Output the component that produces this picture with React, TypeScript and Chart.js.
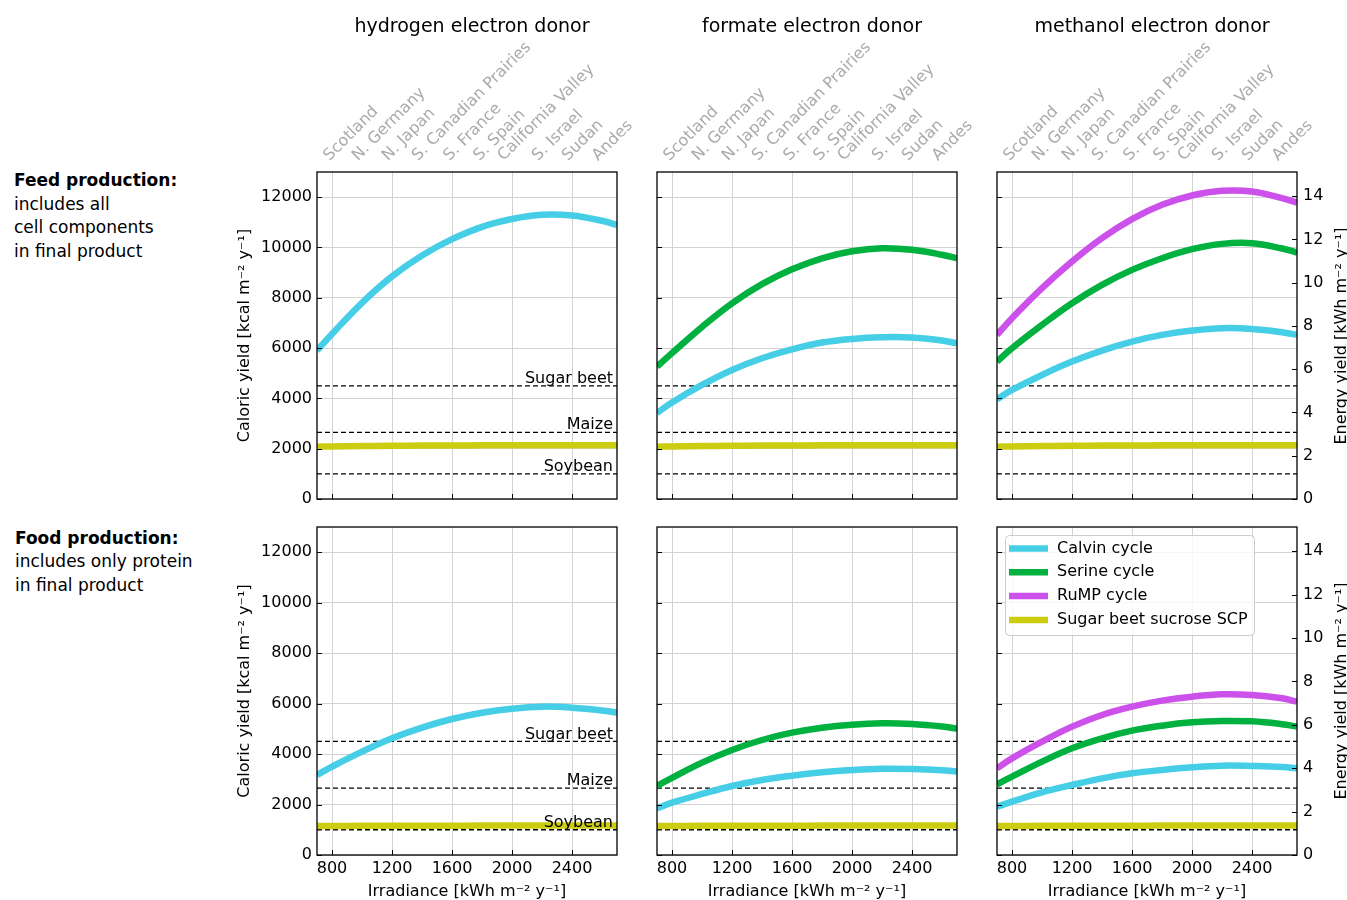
import React, { useEffect, useRef } from "react";
import { Chart, registerables } from "chart.js";

Chart.register(...registerables);

// ---------------- data ----------------
const IRRADIANCE = [700, 800, 1000, 1200, 1400, 1600, 1800, 2000, 2200, 2400, 2600, 2700];
const X_TICKS = [800, 1200, 1600, 2000, 2400];
const Y_TICKS = [0, 2000, 4000, 6000, 8000, 10000, 12000];
const ENERGY_TICKS = [0, 2, 4, 6, 8, 10, 12, 14];
const KCAL_PER_KWH = 860;
const Y_MAX = 13000;

const LOCATIONS = [
  "Scotland", "N. Germany", "N. Japan", "S. Canadian Prairies", "S. France",
  "S. Spain", "California Valley", "S. Israel", "Sudan", "Andes",
];
const LOCATION_IRRADIANCE = [855, 1045, 1245, 1445, 1655, 1855, 2015, 2245, 2445, 2645];

const DONORS = ["hydrogen electron donor", "formate electron donor", "methanol electron donor"];
const SERIES_NAMES = ["Calvin cycle", "Serine cycle", "RuMP cycle", "Sugar beet sucrose SCP"];

const CROPS = ["Sugar beet", "Maize", "Soybean"];
const CROP_YIELDS = [4500, 2650, 1000];

// Feed production (row 1)
const FEED_H2_CALVIN = [5900, 6560, 7800, 8850, 9680, 10330, 10820, 11130, 11297, 11270, 11060, 10899];
const FEED_FORMATE_SERINE = [5263, 5800, 6840, 7780, 8540, 9130, 9570, 9850, 9970, 9905, 9710, 9570];
const FEED_FORMATE_CALVIN = [3420, 3840, 4535, 5130, 5595, 5950, 6220, 6365, 6430, 6420, 6300, 6190];
const FEED_METHANOL_RUMP = [6523, 7187, 8380, 9440, 10369, 11125, 11695, 12066, 12251, 12225, 11960, 11787];
const FEED_METHANOL_SERINE = [5463, 5993, 6921, 7783, 8512, 9109, 9573, 9931, 10143, 10170, 9960, 9798];
const FEED_METHANOL_CALVIN = [3965, 4336, 4932, 5463, 5900, 6257, 6523, 6695, 6790, 6762, 6630, 6523];
const FEED_SCP = [2080, 2090, 2105, 2115, 2122, 2128, 2132, 2135, 2137, 2138, 2139, 2140];

// Food production (row 2)
const FOOD_H2_CALVIN = [3170, 3500, 4095, 4625, 5050, 5390, 5640, 5800, 5880, 5840, 5730, 5640];
const FOOD_FORMATE_SERINE = [2748, 3060, 3660, 4162, 4558, 4849, 5047, 5166, 5219, 5192, 5095, 5007];
const FOOD_FORMATE_CALVIN = [1850, 2074, 2418, 2735, 2973, 3144, 3277, 3369, 3421, 3409, 3360, 3303];
const FOOD_METHANOL_RUMP = [3435, 3831, 4492, 5087, 5549, 5879, 6117, 6276, 6368, 6342, 6210, 6078];
const FOOD_METHANOL_SERINE = [2801, 3105, 3699, 4228, 4624, 4928, 5126, 5258, 5311, 5298, 5185, 5087];
const FOOD_METHANOL_CALVIN = [1915, 2114, 2484, 2775, 3039, 3237, 3369, 3475, 3541, 3528, 3490, 3435];
const FOOD_SCP = [1145, 1150, 1155, 1158, 1161, 1163, 1165, 1166, 1167, 1168, 1168, 1168];

// ---------------- styles / layout ----------------
const COLORS = ["#46cee7", "#00b140", "#cc50ea", "#cccc10"];
const FONT = "'DejaVu Sans', Verdana, sans-serif";
const GRID = "#d2d2d2";
const PLOT_LEFT = [317, 657, 997];
const PLOT_W = 300;
const LEFT_AXIS_W = 85;
const RIGHT_AXIS_W = 95;

// panel series: [seriesIndex, values]
const PANELS: Array<Array<Array<[number, number[]]>>> = [
  [
    [[0, FEED_H2_CALVIN], [3, FEED_SCP]],
    [[0, FEED_FORMATE_CALVIN], [1, FEED_FORMATE_SERINE], [3, FEED_SCP]],
    [[0, FEED_METHANOL_CALVIN], [1, FEED_METHANOL_SERINE], [2, FEED_METHANOL_RUMP], [3, FEED_SCP]],
  ],
  [
    [[0, FOOD_H2_CALVIN], [3, FOOD_SCP]],
    [[0, FOOD_FORMATE_CALVIN], [1, FOOD_FORMATE_SERINE], [3, FOOD_SCP]],
    [[0, FOOD_METHANOL_CALVIN], [1, FOOD_METHANOL_SERINE], [2, FOOD_METHANOL_RUMP], [3, FOOD_SCP]],
  ],
];

Chart.defaults.font.family = FONT;

function Panel({ row, col }: { row: number; col: number }) {
  const ref = useRef<HTMLCanvasElement | null>(null);
  const canvasLeft = PLOT_LEFT[col] - LEFT_AXIS_W;
  const canvasW = LEFT_AXIS_W + PLOT_W + RIGHT_AXIS_W;
  const canvasTop = row === 0 ? 0 : 507;
  const canvasH = row === 0 ? 509 : 394;

  useEffect(() => {
    const canvas = ref.current!;
    const series = PANELS[row][col];

    const datasets: any[] = [];
    series.forEach(([si, vals]) => {
      datasets.push({
        label: SERIES_NAMES[si],
        data: IRRADIANCE.map((x, i) => ({ x, y: vals[i] })),
        borderColor: COLORS[si],
        backgroundColor: COLORS[si],
        borderWidth: 6.5,
        pointRadius: 0,
        tension: 0.4,
        fill: false,
        xAxisID: "x",
        yAxisID: "y",
      });
    });
    CROPS.forEach((c, i) => {
      datasets.push({
        label: c,
        data: [
          { x: 700, y: CROP_YIELDS[i] },
          { x: 2700, y: CROP_YIELDS[i] },
        ],
        borderColor: "#000",
        borderWidth: 1.3,
        borderDash: [5, 3],
        pointRadius: 0,
        tension: 0,
        fill: false,
        xAxisID: "x",
        yAxisID: "y",
      });
    });

    const frameTicks = {
      id: "frameTicks",
      afterDatasetsDraw(chart: any) {
        const { ctx, chartArea: ca, scales } = chart;
        ctx.save();
        ctx.strokeStyle = "#000";
        ctx.lineWidth = 1;
        const len = 5;
        scales.y.ticks.forEach((t: any) => {
          const py = Math.round(scales.y.getPixelForValue(t.value)) + 0.5;
          ctx.beginPath();
          ctx.moveTo(ca.left, py);
          ctx.lineTo(ca.left + len, py);
          ctx.stroke();
        });
        scales.x.ticks.forEach((t: any) => {
          const px = Math.round(scales.x.getPixelForValue(t.value)) + 0.5;
          ctx.beginPath();
          ctx.moveTo(px, ca.bottom);
          ctx.lineTo(px, ca.bottom - len);
          ctx.stroke();
        });
        if (col === 2) {
          scales.y2.ticks.forEach((t: any) => {
            const py = Math.round(scales.y2.getPixelForValue(t.value)) + 0.5;
            ctx.beginPath();
            ctx.moveTo(ca.right, py);
            ctx.lineTo(ca.right - len, py);
            ctx.stroke();
          });
        }
        ctx.lineWidth = 1.3;
        ctx.strokeRect(ca.left, ca.top, ca.right - ca.left, ca.bottom - ca.top);
        ctx.restore();
      },
      afterDraw(chart: any) {
        const { ctx, chartArea: ca, scales } = chart;
        ctx.save();
        if (col === 0) {
          ctx.fillStyle = "#000";
          ctx.font = `16px ${FONT}`;
          ctx.textAlign = "right";
          ctx.textBaseline = "bottom";
          CROPS.forEach((c, i) => {
            const py = scales.y.getPixelForValue(CROP_YIELDS[i]);
            ctx.fillText(c, ca.right - 4, py + 1);
          });
        }
        if (col === 2 && row === 1) {
          const x0 = ca.left + 8;
          const y0 = ca.top + 8;
          const w = 249;
          const h = 100;
          ctx.beginPath();
          ctx.roundRect(x0 + 0.5, y0 + 0.5, w, h, 4);
          ctx.fillStyle = "rgba(255,255,255,0.8)";
          ctx.fill();
          ctx.strokeStyle = "#cccccc";
          ctx.lineWidth = 1;
          ctx.stroke();
          SERIES_NAMES.forEach((name, i) => {
            const cy = y0 + 13.5 + i * 23.8;
            ctx.strokeStyle = COLORS[i];
            ctx.lineWidth = 6.5;
            ctx.beginPath();
            ctx.moveTo(x0 + 4, cy);
            ctx.lineTo(x0 + 43, cy);
            ctx.stroke();
            ctx.fillStyle = "#000";
            ctx.font = `16px ${FONT}`;
            ctx.textAlign = "left";
            ctx.textBaseline = "middle";
            ctx.fillText(name, x0 + 52, cy);
          });
        }
        ctx.restore();
      },
    };

    const scales: any = {
      x: {
        type: "linear",
        axis: "x",
        position: "bottom",
        min: 700,
        max: 2700,
        afterBuildTicks: (s: any) => {
          s.ticks = X_TICKS.map((value) => ({ value }));
        },
        afterFit: (s: any) => {
          s.height = row === 0 ? 10 : 46;
          s.paddingLeft = 0;
          s.paddingRight = 0;
        },
        grid: { color: GRID, lineWidth: 1, drawTicks: false },
        border: { display: false },
        ticks: {
          display: row === 1,
          font: { size: 16 },
          color: "#000",
          padding: 4,
          maxRotation: 0,
          autoSkip: false,
          callback: (v: any) => String(v),
        },
        title: {
          display: row === 1,
          text: "Irradiance [kWh m⁻² y⁻¹]",
          font: { size: 16 },
          color: "#000",
          padding: { top: 0, bottom: 0 },
        },
      },
      y: {
        type: "linear",
        axis: "y",
        position: "left",
        min: 0,
        max: Y_MAX,
        afterBuildTicks: (s: any) => {
          s.ticks = Y_TICKS.map((value) => ({ value }));
        },
        afterFit: (s: any) => {
          s.width = LEFT_AXIS_W;
          s.paddingTop = 0;
          s.paddingBottom = 0;
        },
        grid: { color: GRID, lineWidth: 1, drawTicks: false },
        border: { display: false },
        ticks: {
          display: col === 0,
          font: { size: 16 },
          color: "#000",
          padding: 5,
          callback: (v: any) => String(v),
        },
        title: {
          display: col === 0,
          text: "Caloric yield [kcal m⁻² y⁻¹]",
          font: { size: 16 },
          color: "#000",
          padding: { top: 3, bottom: 0 },
        },
      },
      y2: {
        type: "linear",
        axis: "y",
        position: "right",
        min: 0,
        max: Y_MAX / KCAL_PER_KWH,
        afterBuildTicks: (s: any) => {
          s.ticks = ENERGY_TICKS.map((value) => ({ value }));
        },
        afterFit: (s: any) => {
          s.width = RIGHT_AXIS_W;
          s.paddingTop = 0;
          s.paddingBottom = 0;
        },
        grid: { display: false, drawTicks: false },
        border: { display: false },
        ticks: {
          display: col === 2,
          font: { size: 16 },
          color: "#000",
          padding: 6,
          callback: (v: any) => String(v),
        },
      },
    };
    if (row === 0) {
      scales.x2 = {
        type: "linear",
        axis: "x",
        position: "top",
        min: 700,
        max: 2700,
        afterBuildTicks: (s: any) => {
          s.ticks = LOCATION_IRRADIANCE.map((value) => ({ value }));
        },
        afterFit: (s: any) => {
          s.height = 172 - 40.8;
          s.paddingLeft = 0;
          s.paddingRight = 0;
        },
        grid: { display: false, drawTicks: false },
        border: { display: false },
        ticks: {
          font: { size: 16 },
          color: "#aaaaaa",
          padding: 7,
          minRotation: 45,
          maxRotation: 45,
          autoSkip: false,
          callback: (_v: any, i: number) => LOCATIONS[i],
        },
      };
    }

    const chart = new Chart(canvas, {
      type: "line",
      data: { datasets },
      options: {
        animation: false,
        responsive: false,
        devicePixelRatio: 1,
        layout: { padding: { top: row === 0 ? 0 : 20, left: 0, right: 0, bottom: 0 } },
        plugins: {
          legend: { display: false },
          tooltip: { enabled: false },
          title: {
            display: row === 0,
            text: DONORS[col],
            font: { size: 19, weight: "normal" },
            color: "#000",
            padding: { top: 16, bottom: 2 },
          },
        },
        scales,
      } as any,
      plugins: [frameTicks],
    });
    return () => chart.destroy();
  }, [row, col]);

  return (
    <canvas
      ref={ref}
      width={canvasW}
      height={canvasH}
      style={{
        position: "absolute",
        left: canvasLeft,
        top: canvasTop,
        width: canvasW,
        height: canvasH,
      }}
    />
  );
}

export default function App() {
  const textStyle: React.CSSProperties = {
    position: "absolute",
    fontFamily: FONT,
    fontSize: 17,
    lineHeight: "23.5px",
    color: "#000",
    whiteSpace: "nowrap",
  };
  const energyTitle = (cy: number) => (
    <div
      style={{
        position: "absolute",
        left: 1340,
        top: cy,
        transform: "translate(-50%, -50%) rotate(-90deg)",
        fontFamily: FONT,
        fontSize: 16,
        color: "#000",
        whiteSpace: "nowrap",
      }}
    >
      Energy yield [kWh m⁻² y⁻¹]
    </div>
  );
  return (
    <div
      style={{
        position: "absolute",
        left: 0,
        top: 0,
        width: 1347,
        height: 900,
        overflow: "hidden",
        background: "#fff",
      }}
    >
      {[0, 1].map((row) =>
        [0, 1, 2].map((col) => <Panel key={`${row}-${col}`} row={row} col={col} />)
      )}
      <div style={{ ...textStyle, left: 14, top: 169 }}>
        <b>Feed production:</b>
        <br />
        includes all
        <br />
        cell components
        <br />
        in final product
      </div>
      <div style={{ ...textStyle, left: 15, top: 526.5 }}>
        <b>Food production:</b>
        <br />
        includes only protein
        <br />
        in final product
      </div>
      {energyTitle(335.5)}
      {energyTitle(691)}
    </div>
  );
}
